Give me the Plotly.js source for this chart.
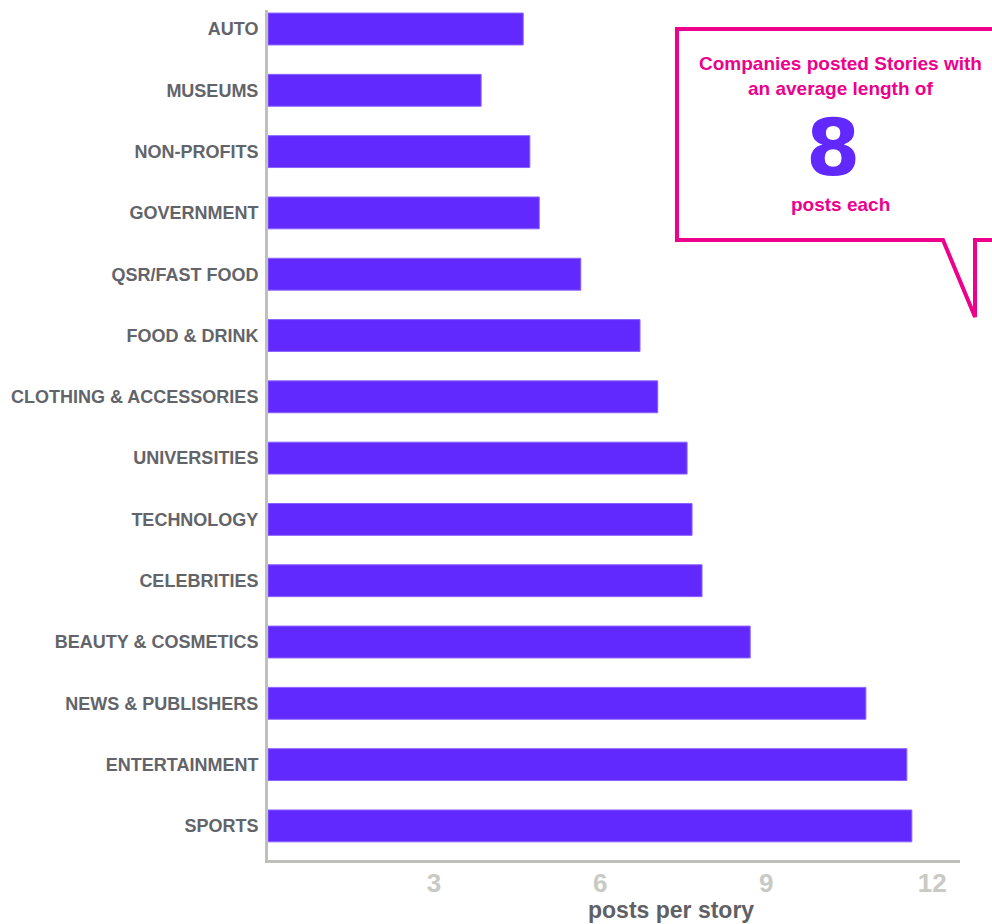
<!DOCTYPE html>
<html>
<head>
<meta charset="utf-8">
<script src="https://cdn.plot.ly/plotly-3.0.1.min.js"></script>
<style>html,body{margin:0;padding:0;background:#fff;}#chart{width:992px;height:924px;}</style>
</head>
<body>
<div id="chart"></div>
<script>
const categories = ["AUTO","MUSEUMS","NON-PROFITS","GOVERNMENT","QSR/FAST FOOD","FOOD & DRINK","CLOTHING & ACCESSORIES","UNIVERSITIES","TECHNOLOGY","CELEBRITIES","BEAUTY & COSMETICS","NEWS & PUBLISHERS","ENTERTAINMENT","SPORTS"];
const postsPerStory = [4.61,3.85,4.73,4.90,5.65,6.72,7.04,7.57,7.66,7.84,8.71,10.80,11.54,11.63];
const tickValues = [3,6,9,12];
const tickLabels = ["3","6","9","12"];
const xTitle = "posts per story";
const calloutLine1 = "Companies posted Stories with";
const calloutLine2 = "an average length of";
const calloutNumber = "8";
const calloutLine3 = "posts each";

const W = 992, H = 924;
const L = 268, R = 32, T = 10, B = 64;
const pw = W - L - R, ph = H - T - B;
const px = x => (x - L) / pw;
const py = y => (H - B - y) / ph;

const calloutPts = [[1010,29],[677,29],[677,240],[943,240],[975,317],[975,240],[1010,240]];
const path = calloutPts.map((p,i)=>(i===0?'M':'L')+px(p[0]).toFixed(4)+','+py(p[1]).toFixed(4)).join(' ');

const pink = '#ec008c';
const purple = '#6229ff';
const sans = '"Liberation Sans", Arial, sans-serif';

const trace = {
  type: 'bar', orientation: 'h',
  y: categories, x: postsPerStory,
  marker: {color: purple, line: {color: '#8a63ff', width: 1}},
  width: 0.52,
  hoverinfo: 'x+y'
};

const layout = {
  width: W, height: H,
  margin: {l: L, r: R, t: T, b: B},
  paper_bgcolor: '#fff', plot_bgcolor: '#fff',
  showlegend: false,
  xaxis: {
    range: [0, 12.5], fixedrange: true,
    tickvals: tickValues, ticktext: tickLabels,
    showgrid: false, zeroline: false,
    showline: true, linecolor: '#bfbfbb', linewidth: 3,
    ticks: '', ticklabelstandoff: -2,
    tickfont: {family: sans, size: 26, color: '#c9c9c5', weight: 'bold'}
  },
  yaxis: {
    type: 'category', categoryorder: 'array', categoryarray: categories,
    range: [13.556, -0.31], fixedrange: true,
    showgrid: false, zeroline: false,
    showline: true, linecolor: '#bfbfbb', linewidth: 3,
    ticks: '', ticklabelstandoff: 3,
    tickfont: {family: sans, size: 18, color: '#626469', weight: 'bold'}
  },
  shapes: [{
    type: 'path', xref: 'paper', yref: 'paper', path: path,
    line: {color: pink, width: 4}, fillcolor: 'rgba(0,0,0,0)'
  }],
  annotations: [
    {xref:'paper', yref:'paper', x: px(840), y: py(64), text: calloutLine1, showarrow:false, xanchor:'center', yanchor:'middle',
     font:{family:sans, size:19, color:pink, weight:'bold'}},
    {xref:'paper', yref:'paper', x: px(840), y: py(88), text: calloutLine2, showarrow:false, xanchor:'center', yanchor:'middle',
     font:{family:sans, size:19, color:pink, weight:'bold'}},
    {xref:'paper', yref:'paper', x: px(833), y: py(148), text: calloutNumber, showarrow:false, xanchor:'center', yanchor:'middle',
     font:{family:'"DejaVu Sans", sans-serif', size:78, color:purple, weight:'bold'}},
    {xref:'paper', yref:'paper', x: px(840), y: py(205), text: calloutLine3, showarrow:false, xanchor:'center', yanchor:'middle',
     font:{family:sans, size:19, color:pink, weight:'bold'}},
    {xref:'paper', yref:'paper', x: px(671), y: py(910), text: xTitle, showarrow:false, xanchor:'center', yanchor:'middle',
     font:{family:sans, size:23, color:'#5f6065', weight:'bold'}}
  ]
};

Plotly.newPlot('chart', [trace], layout, {displayModeBar: false, staticPlot: true});
</script>
</body>
</html>
